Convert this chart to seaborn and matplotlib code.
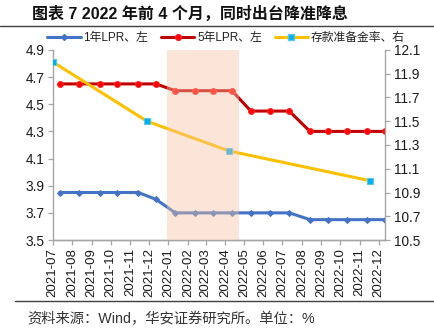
import matplotlib
matplotlib.use("Agg")
import matplotlib.pyplot as plt
from matplotlib.lines import Line2D
import seaborn as sns
import pandas as pd
import numpy as np

# ---------------- data ----------------
lpr_dates = ["2021-07-20", "2021-08-20", "2021-09-22", "2021-10-20", "2021-11-22", "2021-12-20",
             "2022-01-20", "2022-02-21", "2022-03-21", "2022-04-20", "2022-05-20", "2022-06-20",
             "2022-07-20", "2022-08-22", "2022-09-20", "2022-10-20", "2022-11-21", "2022-12-20"]
lpr_1y = [3.85, 3.85, 3.85, 3.85, 3.85, 3.80,
          3.70, 3.70, 3.70, 3.70, 3.70, 3.70,
          3.70, 3.65, 3.65, 3.65, 3.65, 3.65]
lpr_5y = [4.65, 4.65, 4.65, 4.65, 4.65, 4.65,
          4.60, 4.60, 4.60, 4.60, 4.45, 4.45,
          4.45, 4.30, 4.30, 4.30, 4.30, 4.30]
rrr_dates = ["2021-07-09", "2021-12-06", "2022-04-15", "2022-11-25"]
rrr = [12.0, 11.5, 11.25, 11.0]

tick_dates = ["2021-07-09", "2021-08-09", "2021-09-09", "2021-10-09", "2021-11-09", "2021-12-09",
              "2022-01-09", "2022-02-09", "2022-03-09", "2022-04-09", "2022-05-09", "2022-06-09",
              "2022-07-09", "2022-08-09", "2022-09-09", "2022-10-09", "2022-11-09", "2022-12-09"]
shade_span = ["2022-01-07", "2022-05-01"]

series_names = ["1年LPR、左", "5年LPR、左", "存款准备金率、右"]
title_text = "图表 7 2022 年前 4 个月，同时出台降准降息"
source_text = "资料来源：Wind，华安证券研究所。单位：%"

# ---------------- style ----------------
sns.set_theme(style="white")
plt.rcParams['font.family'] = ['Liberation Sans', 'Noto Sans CJK SC']
plt.rcParams['axes.unicode_minus'] = False

df_lpr = pd.DataFrame({"date": pd.to_datetime(lpr_dates), "lpr1": lpr_1y, "lpr5": lpr_5y})
df_rrr = pd.DataFrame({"date": pd.to_datetime(rrr_dates), "rrr": rrr})

fig = plt.figure(figsize=(4.35, 3.31), dpi=100)
ax = fig.add_axes([0.1211, 0.2749, 0.7651, 0.5741])
ax2 = ax.twinx()

c_blue = "#4472C4"
c_red = "#C00000"
c_yel = "#FFC000"
c_sq = "#00B0F0"

sns.lineplot(data=df_lpr, x="date", y="lpr1", ax=ax, color=c_blue, lw=2.2,
             marker="D", markersize=3, markeredgecolor=c_blue, markerfacecolor=c_blue,
             legend=False, zorder=3)
sns.lineplot(data=df_lpr, x="date", y="lpr5", ax=ax, color=c_red, lw=2.2,
             marker="o", markersize=4.2, markeredgecolor="#FF2020", markerfacecolor="#FF0000",
             legend=False, zorder=3)
sns.lineplot(data=df_rrr, x="date", y="rrr", ax=ax2, color=c_yel, lw=2.2,
             marker="s", markersize=4.8, markeredgecolor="#55C8F0", markerfacecolor=c_sq,
             legend=False, zorder=3)

# shaded period (drawn over lines)
ax2.axvspan(pd.Timestamp(shade_span[0]), pd.Timestamp(shade_span[1]),
            color="#F4C3A2", alpha=0.42, lw=0, zorder=10)

ax.set_xlim(pd.Timestamp("2021-07-09"), pd.Timestamp("2022-12-20"))
ax.set_ylim(3.5, 4.9)
ax2.set_ylim(10.5, 12.1)
ax.set_yticks(np.round(np.arange(3.5, 4.91, 0.2), 1))
ax2.set_yticks(np.round(np.arange(10.5, 12.11, 0.2), 1))
ax.yaxis.set_major_formatter(matplotlib.ticker.FormatStrFormatter("%.1f"))
ax2.yaxis.set_major_formatter(matplotlib.ticker.FormatStrFormatter("%.1f"))

ticks = pd.to_datetime(tick_dates)
ax.set_xticks(ticks)
ax.set_xticklabels([t.strftime("%Y-%m") for t in ticks], rotation=90)

for a in (ax, ax2):
    a.set_xlabel("")
    a.set_ylabel("")
    for s in a.spines.values():
        s.set_color("#A6A6A6")
        s.set_linewidth(1.0)
    a.spines["top"].set_visible(False)
    a.tick_params(axis="both", which="major", direction="out", length=3.5,
                  width=0.9, color="#A6A6A6", labelsize=9.8, labelcolor="#1a1a1a", pad=2.5)
ax.spines["right"].set_visible(False)
ax2.spines["left"].set_visible(False)
ax.tick_params(axis="x", pad=2.5, labelsize=9.5)
ax.tick_params(left=True, bottom=True)
ax2.tick_params(right=True)

# legend
handles = [
    Line2D([], [], color=c_blue, lw=2.2, marker="D", markersize=3, markerfacecolor=c_blue, markeredgecolor=c_blue),
    Line2D([], [], color=c_red, lw=2.2, marker="o", markersize=4.2, markerfacecolor="#FF0000", markeredgecolor="#FF2020"),
    Line2D([], [], color=c_yel, lw=2.2, marker="s", markersize=4.8, markerfacecolor=c_sq, markeredgecolor="#55C8F0"),
]
fig.legend(handles, series_names, loc="center", bbox_to_anchor=(0.52, 0.885), ncol=3,
           frameon=False, fontsize=8.5, handlelength=2.8, handletextpad=0.25,
           columnspacing=1.1, borderaxespad=0, labelcolor="#222222")

# title, rules, source
fig.text(0.073, 0.959, title_text, fontsize=11.5, fontweight="bold", va="center", ha="left",
         color="#111111")
fig.add_artist(Line2D([0.0, 1.0], [0.9215, 0.9215], transform=fig.transFigure,
                      color="#404040", lw=1.0))
fig.add_artist(Line2D([0.035, 1.0], [0.0906, 0.0906], transform=fig.transFigure,
                      color="#404040", lw=1.0))
fig.text(0.062, 0.036, source_text, fontsize=10.3, va="center", ha="left", color="#333333")

fig.savefig("out.png", dpi=100)
